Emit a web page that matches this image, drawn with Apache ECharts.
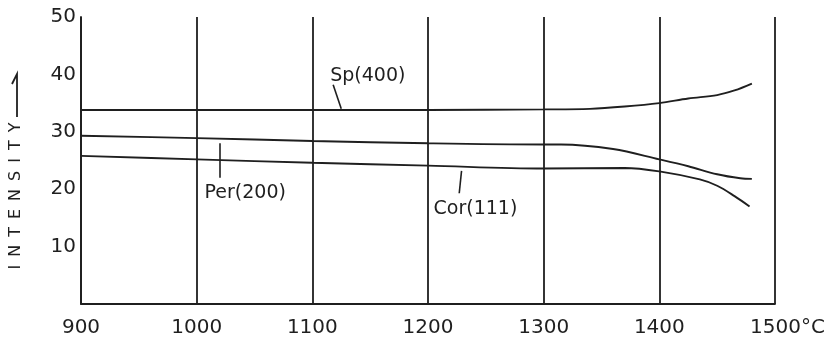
<!DOCTYPE html>
<html>
<head>
<meta charset="utf-8">
<script src="https://cdn.jsdelivr.net/npm/echarts@6/dist/echarts.min.js"></script>
<style>
  html, body { margin: 0; padding: 0; background: #fff; }
  #chart { width: 837px; height: 343px; }
</style>
</head>
<body>
<div id="chart"></div>
<script>
// Temperature (°C) and intensity readings for the three phases
const spTemp  = [900, 1000, 1100, 1200, 1300, 1340, 1370, 1400, 1425, 1450, 1465, 1480];
const spVal   = [33.8, 33.8, 33.8, 33.8, 33.9, 34.0, 34.4, 35.0, 35.8, 36.4, 37.2, 38.4];

const perTemp = [900, 1000, 1100, 1200, 1300, 1315, 1360, 1400, 1425, 1450, 1470, 1480];
const perVal  = [29.3, 28.9, 28.4, 28.0, 27.8, 27.8, 27.0, 25.2, 24.0, 22.6, 21.9, 21.8];

const corTemp = [900, 1000, 1100, 1200, 1300, 1370, 1400, 1435, 1450, 1465, 1478];
const corVal  = [25.8, 25.2, 24.6, 24.1, 23.6, 23.7, 23.1, 21.7, 20.6, 18.8, 17.0];

const xTicks = [900, 1000, 1100, 1200, 1300, 1400, 1500];
const yTicks = [10, 20, 30, 40, 50];

// Curve labels: text position and the short leader line to the curve
const labelNames  = ['Sp(400)', 'Per(200)', 'Cor(111)'];
const labelAt     = [[1148, 39.7], [1042, 19.4], [1241, 16.6]];
const leaderFrom  = [[1118, 38.2], [1020, 22.0], [1227, 19.3]];
const leaderTo    = [[1125, 34.0], [1020, 28.0], [1229, 23.2]];

const INK = '#1f1f1f';
const FONT = 'DejaVu Sans';

function pairs(xs, ys) { return xs.map((x, i) => [x, ys[i]]); }

const chart = echarts.init(document.getElementById('chart'), null, { renderer: 'canvas' });

const curves = [pairs(spTemp, spVal), pairs(perTemp, perVal), pairs(corTemp, corVal)];

const series = curves.map((d, i) => ({
  type: 'line',
  name: labelNames[i],
  data: d,
  smooth: 0.35,
  showSymbol: false,
  lineStyle: { color: INK, width: 1.9 },
  markLine: {
    silent: true,
    symbol: 'none',
    label: { show: false },
    lineStyle: { color: INK, width: 1.6, type: 'solid' },
    data: [[{ coord: leaderFrom[i] }, { coord: leaderTo[i] }]]
  },
  markPoint: {
    silent: true,
    symbol: 'circle',
    symbolSize: 0,
    label: {
      show: true,
      position: 'inside',
      formatter: labelNames[i],
      color: INK,
      fontFamily: FONT,
      fontSize: 19
    },
    data: [{ coord: labelAt[i] }]
  }
}));

chart.setOption({
  animation: false,
  backgroundColor: '#fff',
  grid: { left: 81, right: 62, top: 17, bottom: 39, containLabel: false },
  xAxis: {
    type: 'value',
    min: 900, max: 1500, interval: 100,
    axisLine: { show: true, lineStyle: { color: INK, width: 1.8 } },
    axisTick: { show: false },
    splitLine: { show: true, lineStyle: { color: INK, width: 1.8 } },
    axisLabel: {
      margin: 14,
      color: INK,
      fontFamily: FONT,
      fontSize: 20,
      customValues: xTicks,
      formatter: v => v === 1500 ? '{pad| }1500°C' : String(v),
      rich: { pad: { width: 25, fontSize: 20 } }
    }
  },
  yAxis: {
    type: 'value',
    min: 0, max: 50, interval: 10,
    axisLine: { show: true, lineStyle: { color: INK, width: 1.8 } },
    axisTick: { show: false },
    splitLine: { show: false },
    axisLabel: {
      margin: 5,
      color: INK,
      fontFamily: FONT,
      fontSize: 20,
      formatter: v => yTicks.includes(v) ? String(v) : ''
    }
  },
  graphic: [
    {
      type: 'text',
      x: 16, y: 196,
      rotation: Math.PI / 2,
      style: {
        text: 'INTENSITY'.split('').join('\u2002'),
        fill: INK,
        font: '16px "DejaVu Sans"',
        align: 'center',
        verticalAlign: 'middle'
      }
    },
    {
      type: 'polyline',
      shape: { points: [[17, 117], [17, 74], [12, 84]] },
      style: { stroke: INK, lineWidth: 1.8, fill: null }
    }
  ],
  series: series
});
</script>
</body>
</html>
